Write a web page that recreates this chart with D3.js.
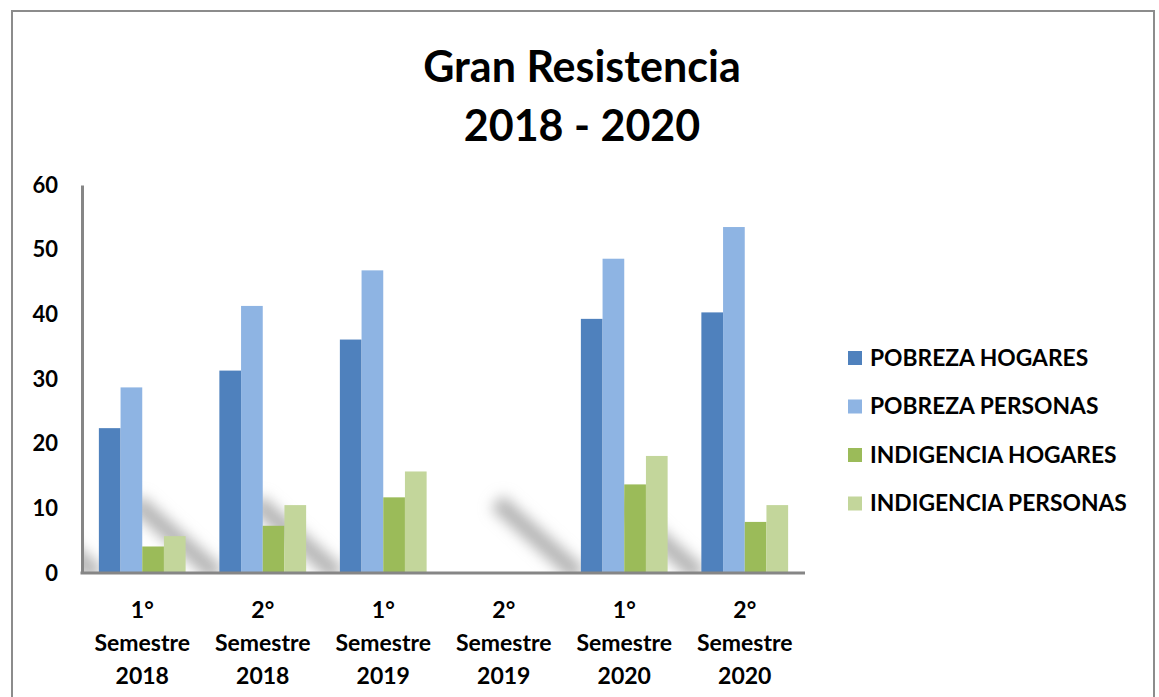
<!DOCTYPE html>
<html lang="es">
<head>
    <meta charset="UTF-8">
    <title>Gran Resistencia 2018 - 2020</title>
    <script src="https://cdn.jsdelivr.net/npm/d3@7"></script>
    <style>
        body { margin: 0; background: #fff; }
        text { font-family: Lato, "Open Sans", sans-serif; font-weight: bold; fill: #000; }
    </style>
</head>
<body>
    <script>
        const width = 1159;
        const height = 697;

        const marginTop = 185;
        const marginLeft = 82;
        const plotRight = 805;
        const plotBottom = 573;

        // data
        const categories = [
            ["1°", "Semestre", "2018"],
            ["2°", "Semestre", "2018"],
            ["1°", "Semestre", "2019"],
            ["2°", "Semestre", "2019"],
            ["1°", "Semestre", "2020"],
            ["2°", "Semestre", "2020"]
        ];
        const seriesNames = ["POBREZA HOGARES", "POBREZA PERSONAS", "INDIGENCIA HOGARES", "INDIGENCIA PERSONAS"];
        const pobrezaHogares = [22.4, 31.3, 36.1, null, 39.3, 40.3];
        const pobrezaPersonas = [28.7, 41.3, 46.8, null, 48.6, 53.5];
        const indigenciaHogares = [4.1, 7.3, 11.7, null, 13.7, 7.9];
        const indigenciaPersonas = [5.7, 10.5, 15.7, null, 18.1, 10.5];
        const yTicks = [0, 10, 20, 30, 40, 50, 60];
        const colors = ["#4f81bd", "#8eb4e3", "#9bbb59", "#c3d69b"];

        const series = [pobrezaHogares, pobrezaPersonas, indigenciaHogares, indigenciaPersonas];
        const catIds = categories.map((_, i) => i);

        const x = d3.scaleBand()
            .domain(catIds)
            .range([marginLeft, plotRight])
            .paddingInner(0.28)
            .paddingOuter(0.14);

        const xInner = d3.scaleBand()
            .domain(d3.range(series.length))
            .range([0, x.bandwidth()]);

        const y = d3.scaleLinear()
            .domain([0, 60])
            .range([plotBottom, marginTop]);

        const svg = d3.select("body").append("svg")
            .attr("width", width)
            .attr("height", height)
            .attr("viewBox", [0, 0, width, height]);

        const defs = svg.append("defs");
        defs.append("filter")
            .attr("id", "blur")
            .attr("x", "-50%").attr("y", "-50%")
            .attr("width", "200%").attr("height", "200%")
            .append("feGaussianBlur")
            .attr("stdDeviation", 7);
        defs.append("clipPath")
            .attr("id", "plot-clip")
            .append("rect")
            .attr("x", marginLeft + 2)
            .attr("y", marginTop)
            .attr("width", plotRight - marginLeft)
            .attr("height", plotBottom - marginTop);

        // frame
        svg.append("rect")
            .attr("x", 12)
            .attr("y", 11)
            .attr("width", 1142)
            .attr("height", 700)
            .attr("fill", "#fff")
            .attr("stroke", "#8c8c8c")
            .attr("stroke-width", 2);

        // title
        const title = svg.append("text")
            .attr("text-anchor", "middle")
            .attr("font-size", 43);
        title.append("tspan").attr("x", 582).attr("y", 82).text("Gran Resistencia");
        title.append("tspan").attr("x", 582).attr("y", 141).text("2018 - 2020");

        // soft diagonal shadows behind each group
        svg.append("g")
            .attr("clip-path", "url(#plot-clip)")
            .selectAll("line")
            .data(catIds.filter(i => series.some(s => s[i] != null)))
            .join("line")
            .attr("x1", i => x(i) - 84)
            .attr("y1", y(11))
            .attr("x2", i => x(i) - 2)
            .attr("y2", y(0) + 2)
            .attr("stroke", "#b4b4b4")
            .attr("stroke-width", 18)
            .attr("filter", "url(#blur)");

        // bars
        svg.append("g")
            .selectAll("g")
            .data(series)
            .join("g")
            .attr("fill", (_, k) => colors[k])
            .each(function (values, k) {
                d3.select(this).selectAll("rect")
                    .data(values.map((v, i) => ({ i, v })).filter(d => d.v != null))
                    .join("rect")
                    .attr("x", d => x(d.i) + xInner(k))
                    .attr("y", d => y(d.v))
                    .attr("width", xInner.bandwidth())
                    .attr("height", d => y(0) - y(d.v));
            });

        // y axis
        const yAxis = svg.append("g")
            .attr("transform", `translate(${marginLeft}, 0)`)
            .call(d3.axisLeft(y).tickValues(yTicks).tickSize(0).tickPadding(24));
        yAxis.select(".domain")
            .attr("stroke", "#868686")
            .attr("stroke-width", 3);
        yAxis.selectAll("text")
            .attr("font-size", 22)
            .attr("font-family", null);

        // x axis
        const xAxis = svg.append("g")
            .attr("transform", `translate(0, ${plotBottom})`)
            .call(d3.axisBottom(x).tickSize(0).tickFormat(""));
        xAxis.select(".domain")
            .attr("d", `M${marginLeft - 1.5},0H${plotRight}`)
            .attr("stroke", "#868686")
            .attr("stroke-width", 3);
        xAxis.selectAll(".tick text").remove();
        xAxis.selectAll(".tick")
            .append("text")
            .attr("text-anchor", "middle")
            .attr("font-size", 23)
            .selectAll("tspan")
            .data(i => categories[i])
            .join("tspan")
            .attr("x", 0)
            .attr("y", (_, j) => 45 + j * 33)
            .text(d => d);

        // legend
        const legend = svg.append("g")
            .selectAll("g")
            .data(seriesNames)
            .join("g")
            .attr("transform", (_, k) => `translate(848, ${358 + k * 48.5})`);
        legend.append("rect")
            .attr("x", 0)
            .attr("y", -7)
            .attr("width", 14)
            .attr("height", 14)
            .attr("fill", (_, k) => colors[k]);
        legend.append("text")
            .attr("x", 22)
            .attr("dy", "0.35em")
            .attr("font-size", 22.8)
            .text(d => d);
    </script>
</body>
</html>
